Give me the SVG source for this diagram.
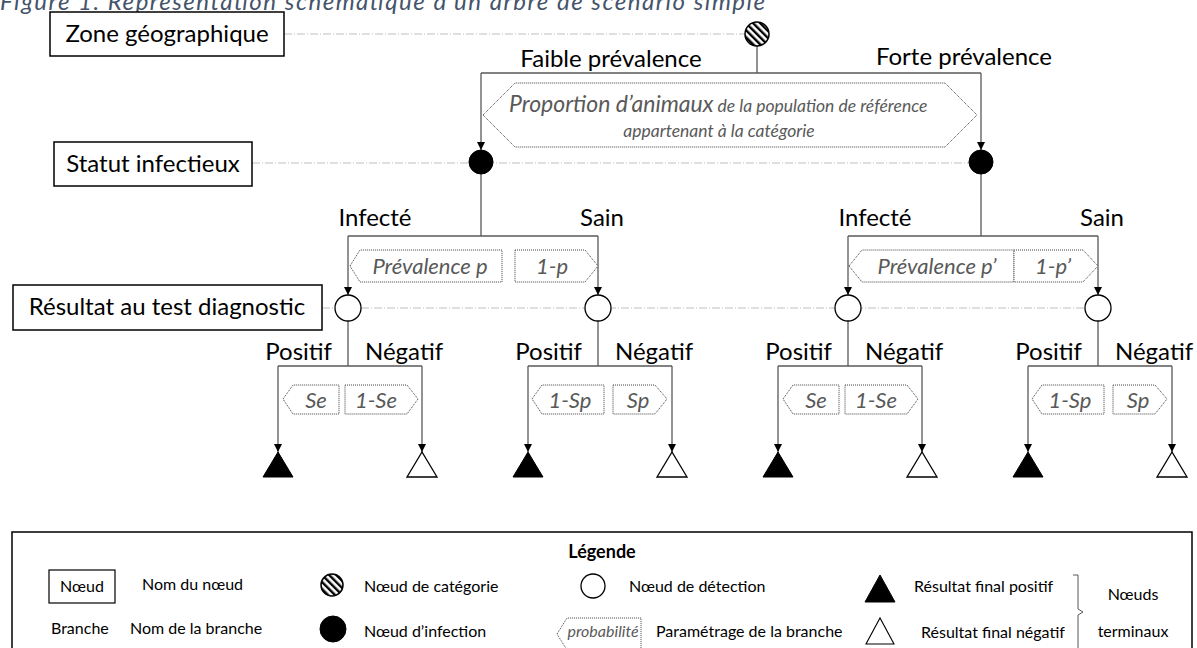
<svg xmlns="http://www.w3.org/2000/svg" width="1197" height="648" viewBox="0 0 1197 648">
<style>
  text { font-family: Lato, "Liberation Sans", sans-serif; fill: #000; }
  .lvl { font-size: 24px; }
  .lbl { font-size: 24px; }
  .par { font-size: 22px; font-style: italic; fill: #595959; }
  .leg { font-size: 16px; }
  .box { fill: #fff; stroke: #000; stroke-width: 1.5; }
  .dd { stroke: #bfbfbf; stroke-width: 1.2; stroke-dasharray: 8 2 1 2; fill: none; }
  .br { stroke: #595959; stroke-width: 1.3; fill: none; }
  .brm { stroke: #595959; stroke-width: 1.3; fill: none; marker-end: url(#arr); }
  .dot { fill: #fff; stroke: #404040; stroke-width: 1; stroke-dasharray: 1 1; }
  .open { fill: #fff; stroke: #000; stroke-width: 1.3; }
  .solid { fill: #000; stroke: #000; stroke-width: 1; }
  .hatch { fill: url(#hp); stroke: #000; stroke-width: 1.5; }
</style>
<defs>
  <pattern id="hp" patternUnits="userSpaceOnUse" width="5" height="5" patternTransform="rotate(-45)">
    <rect width="5" height="5" fill="#fff"/>
    <rect width="2.4" height="5" fill="#000"/>
  </pattern>
  <marker id="arr" markerWidth="9" markerHeight="8" refX="8" refY="4" orient="auto" markerUnits="userSpaceOnUse">
    <path d="M0,0 L8,4 L0,8 z" fill="#000"/>
  </marker>
</defs>

<text x="0" y="10" style="font-size:24px;font-style:italic;fill:#44546A" textLength="765" lengthAdjust="spacing">Figure 1. Représentation schématique d’un arbre de scénario simple</text>

<g id="connectors">
  <line class="dd" x1="284" y1="34" x2="745" y2="34"/>
  <line class="dd" x1="252" y1="163" x2="970" y2="163"/>
  <line class="dd" x1="322" y1="308" x2="1098" y2="308"/>
  <path class="br" d="M757,46 V73 M481,73 H981"/>
  <path class="brm" d="M481,73 V150"/>
  <path class="brm" d="M981,73 V150"/>
  <path class="br" d="M481,174 V236 M348,236 H598"/>
  <path class="brm" d="M348,236 V295"/>
  <path class="brm" d="M598,236 V295"/>
  <path class="br" d="M981,174 V236 M848,236 H1098"/>
  <path class="brm" d="M848,236 V295"/>
  <path class="brm" d="M1098,236 V295"/>
  <path class="br" d="M348,321 V366 M278,366 H422"/>
  <path class="brm" d="M278,366 V452"/>
  <path class="brm" d="M422,366 V452"/>
  <path class="br" d="M598,321 V366 M528,366 H672"/>
  <path class="brm" d="M528,366 V452"/>
  <path class="brm" d="M672,366 V452"/>
  <path class="br" d="M848,321 V366 M778,366 H922"/>
  <path class="brm" d="M778,366 V452"/>
  <path class="brm" d="M922,366 V452"/>
  <path class="br" d="M1098,321 V366 M1028,366 H1172"/>
  <path class="brm" d="M1028,366 V452"/>
  <path class="brm" d="M1172,366 V452"/>
</g>

<g id="zone">
  <rect class="box" x="50" y="12" width="234" height="44"/>
  <text class="lvl" x="167" y="42" text-anchor="middle">Zone géographique</text>
</g>
<g id="statut">
  <rect class="box" x="54" y="142" width="198" height="44"/>
  <text class="lvl" x="153" y="172" text-anchor="middle">Statut infectieux</text>
</g>
<g id="resultat">
  <rect class="box" x="13" y="285" width="309" height="45"/>
  <text class="lvl" x="167" y="315" text-anchor="middle">Résultat au test diagnostic</text>
</g>

<g id="categorie">
  <circle class="hatch" cx="757" cy="34" r="12"/>
</g>
<g id="labels-prevalence">
  <text class="lbl" x="611" y="67" text-anchor="middle">Faible prévalence</text>
  <text class="lbl" x="964" y="65" text-anchor="middle">Forte prévalence</text>
</g>
<g id="proportion">
  <polygon class="dot" points="483,115 515,83 945,83 977,115 945,147 515,147"/>
  <text x="509" y="112" style="font-style:italic;fill:#595959;font-size:23px">Proportion d’animaux<tspan style="font-size:17.5px"> de la population de référence</tspan></text>
  <text x="719" y="137" text-anchor="middle" style="font-style:italic;fill:#595959;font-size:17.5px">appartenant à la catégorie</text>
</g>

<g id="infection-faible"><circle class="solid" cx="481" cy="162" r="12"/></g>
<g id="infection-forte"><circle class="solid" cx="981" cy="162" r="12"/></g>

<g id="branches-faible">
  <text class="lbl" x="375" y="226" text-anchor="middle">Infecté</text>
  <text class="lbl" x="602" y="226" text-anchor="middle">Sain</text>
  <polygon class="dot" points="350,266 360,250 502,250 502,282 360,282"/>
  <text class="par" x="430" y="274" text-anchor="middle">Prévalence p</text>
  <polygon class="dot" points="515,250 585,250 598,266 585,282 515,282"/>
  <text class="par" x="552" y="274" text-anchor="middle">1-p</text>
</g>
<g id="branches-forte">
  <text class="lbl" x="875" y="226" text-anchor="middle">Infecté</text>
  <text class="lbl" x="1102" y="226" text-anchor="middle">Sain</text>
  <polygon class="dot" points="849,266 862,250 1014,250 1014,282 862,282"/>
  <text class="par" x="937" y="274" text-anchor="middle">Prévalence p’</text>
  <polygon class="dot" points="1014,250 1083,250 1098,266 1083,282 1014,282"/>
  <text class="par" x="1053" y="274" text-anchor="middle">1-p’</text>
</g>

<g id="detection-1"><circle class="open" cx="348" cy="308" r="13"/></g>
<g id="detection-2"><circle class="open" cx="598" cy="308" r="13"/></g>
<g id="detection-3"><circle class="open" cx="848" cy="308" r="13"/></g>
<g id="detection-4"><circle class="open" cx="1098" cy="308" r="13"/></g>

<g id="test-1">
  <text class="lbl" x="332" y="360" text-anchor="end">Positif</text>
  <text class="lbl" x="365" y="360">Négatif</text>
  <polygon class="dot" points="283,399 293,385 339,385 339,414 293,414"/>
  <text class="par" x="316" y="408" text-anchor="middle">Se</text>
  <polygon class="dot" points="345,385 407,385 418,399 407,414 345,414"/>
  <text class="par" x="376" y="408" text-anchor="middle">1-Se</text>
</g>
<g id="test-2">
  <text class="lbl" x="582" y="360" text-anchor="end">Positif</text>
  <text class="lbl" x="615" y="360">Négatif</text>
  <polygon class="dot" points="532,399 542,385 604,385 604,414 542,414"/>
  <text class="par" x="570" y="408" text-anchor="middle">1-Sp</text>
  <polygon class="dot" points="613,385 655,385 667,399 655,414 613,414"/>
  <text class="par" x="638" y="408" text-anchor="middle">Sp</text>
</g>
<g id="test-3">
  <text class="lbl" x="832" y="360" text-anchor="end">Positif</text>
  <text class="lbl" x="865" y="360">Négatif</text>
  <polygon class="dot" points="783,399 793,385 839,385 839,414 793,414"/>
  <text class="par" x="816" y="408" text-anchor="middle">Se</text>
  <polygon class="dot" points="845,385 907,385 918,399 907,414 845,414"/>
  <text class="par" x="876" y="408" text-anchor="middle">1-Se</text>
</g>
<g id="test-4">
  <text class="lbl" x="1082" y="360" text-anchor="end">Positif</text>
  <text class="lbl" x="1115" y="360">Négatif</text>
  <polygon class="dot" points="1032,399 1042,385 1104,385 1104,414 1042,414"/>
  <text class="par" x="1070" y="408" text-anchor="middle">1-Sp</text>
  <polygon class="dot" points="1113,385 1155,385 1167,399 1155,414 1113,414"/>
  <text class="par" x="1138" y="408" text-anchor="middle">Sp</text>
</g>

<g id="terminal-1"><polygon class="solid" points="263,477 293,477 278,452"/></g>
<g id="terminal-2"><polygon class="open" points="407,477 437,477 422,452"/></g>
<g id="terminal-3"><polygon class="solid" points="513,477 543,477 528,452"/></g>
<g id="terminal-4"><polygon class="open" points="657,477 687,477 672,452"/></g>
<g id="terminal-5"><polygon class="solid" points="763,477 793,477 778,452"/></g>
<g id="terminal-6"><polygon class="open" points="907,477 937,477 922,452"/></g>
<g id="terminal-7"><polygon class="solid" points="1013,477 1043,477 1028,452"/></g>
<g id="terminal-8"><polygon class="open" points="1157,477 1187,477 1172,452"/></g>

<g id="legende">
  <rect x="12" y="532" width="1180" height="130" fill="none" stroke="#000" stroke-width="1.5"/>
  <text x="602" y="558" text-anchor="middle" style="font-size:18px;font-weight:bold">Légende</text>
  <rect class="box" x="49" y="570" width="66" height="33" style="stroke-width:1.2"/>
  <text class="leg" x="82" y="592" text-anchor="middle">Nœud</text>
  <text class="leg" x="142" y="590">Nom du nœud</text>
  <text class="leg" x="51" y="634">Branche</text>
  <text class="leg" x="130" y="634">Nom de la branche</text>
  <circle class="hatch" cx="332" cy="585" r="11"/>
  <text class="leg" x="364" y="592">Nœud de catégorie</text>
  <circle class="solid" cx="333" cy="629" r="13"/>
  <text class="leg" x="364" y="637">Nœud d’infection</text>
  <circle class="open" cx="593" cy="586" r="12"/>
  <text class="leg" x="629" y="592">Nœud de détection</text>
  <polygon class="dot" points="557,634 567,618 641,618 641,650 567,650"/>
  <text x="603" y="637" text-anchor="middle" style="font-size:16px;font-style:italic;fill:#595959">probabilité</text>
  <text class="leg" x="656" y="637">Paramétrage de la branche</text>
  <polygon class="solid" points="865,602 895,602 880,575"/>
  <text class="leg" x="914" y="592">Résultat final positif</text>
  <polygon class="open" points="866,644 894,644 880,618" style="stroke-width:1.1"/>
  <text class="leg" x="921" y="638">Résultat final négatif</text>
  <path d="M1073,575 H1078 V609 L1083,612 L1078,615 V650" fill="none" stroke="#595959" stroke-width="1"/>
  <text class="leg" x="1133" y="600" text-anchor="middle">Nœuds</text>
  <text class="leg" x="1133" y="637" text-anchor="middle">terminaux</text>
</g>
</svg>
